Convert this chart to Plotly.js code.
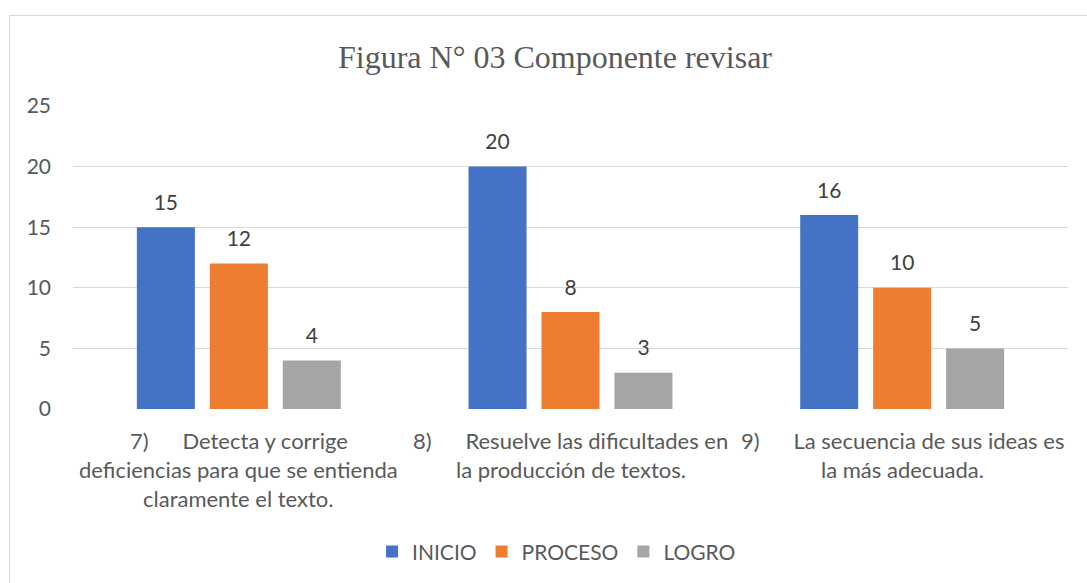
<!DOCTYPE html>
<html>
<head>
<meta charset="utf-8">
<script src="https://cdn.plot.ly/plotly-3.0.1.min.js"></script>
<style>
  html, body { margin: 0; padding: 0; background: #fff; }
  #frame { position: absolute; left: 9px; top: 15px; width: 1100px; height: 600px; border: 1px solid #d9d9d9; box-sizing: border-box; }
  #chart { position: absolute; left: 0; top: 0; width: 1087px; height: 583px; }
</style>
</head>
<body>
<div id="frame"></div>
<div id="chart"></div>
<script>
const categories = ['cat7', 'cat8', 'cat9'];
const categoryLines = [
  ['7)\u00a0\u00a0\u00a0\u00a0\u00a0\u00a0Detecta y corrige', 'deficiencias para que se entienda', 'claramente el texto.'],
  ['8)\u00a0\u00a0\u00a0\u00a0\u00a0\u00a0Resuelve las dificultades en', 'la producción de textos.'],
  ['9)\u00a0\u00a0\u00a0\u00a0\u00a0\u00a0La secuencia de sus ideas es', 'la más adecuada.']
];
const seriesNames = ['INICIO', 'PROCESO', 'LOGRO'];
const inicio = [15, 20, 16];
const proceso = [12, 8, 10];
const logro = [4, 3, 5];
const seriesColors = ['#4472C4', '#ED7D31', '#A5A5A5'];
const titleText = 'Figura N° 03 Componente revisar';

const seriesValues = [inicio, proceso, logro];
const FONT = 'Lato, "Liberation Sans", sans-serif';
const TXT = '#595959';

const traces = [];
seriesValues.forEach((vals, i) => {
  traces.push({
    type: 'bar', x: categories, y: vals, name: seriesNames[i],
    marker: { color: seriesColors[i] }, hoverinfo: 'skip',
    offsetgroup: 'g' + i, alignmentgroup: 'a'
  });
});
seriesValues.forEach((vals, i) => {
  traces.push({
    type: 'scatter', mode: 'markers+text', x: categories, y: vals,
    text: vals.map(String), textposition: 'top center',
    textfont: { family: FONT, size: 21, color: '#404040' },
    marker: { size: 18, opacity: 0 }, showlegend: false, hoverinfo: 'skip',
    offsetgroup: 'g' + i, alignmentgroup: 'a', cliponaxis: false
  });
});

const annotations = [];
categoryLines.forEach((lines, i) => {
  lines.forEach((ln, j) => {
    annotations.push({
      x: categories[i], xref: 'x', y: 0, yref: 'paper',
      yanchor: 'middle', yshift: -31 - 29 * j,
      text: ln, showarrow: false,
      font: { family: FONT, size: 22, color: TXT }
    });
  });
});

const layout = {
  width: 1087, height: 583,
  margin: { l: 73, r: 19, t: 106, b: 173 },
  paper_bgcolor: 'rgba(0,0,0,0)', plot_bgcolor: 'rgba(0,0,0,0)',
  barmode: 'group', bargap: 0.34, bargroupgap: 0.205,
  scattermode: 'group', scattergap: 0.34,
  title: {
    text: titleText, x: 555 / 1087, xref: 'container', xanchor: 'center',
    y: 1 - 57 / 583, yref: 'container', yanchor: 'middle',
    font: { family: '"Liberation Serif", "Times New Roman", serif', size: 32, color: TXT }
  },
  xaxis: { type: 'category', showticklabels: false, showgrid: false, showline: false, zeroline: false, ticks: '', fixedrange: true },
  yaxis: {
    range: [0, 25], dtick: 5, tick0: 0, showgrid: true, gridcolor: '#d9d9d9', gridwidth: 1,
    zeroline: false, showline: false, ticks: '', ticklabelstandoff: 21,
    tickfont: { family: FONT, size: 21, color: TXT }, fixedrange: true
  },
  showlegend: true,
  legend: {
    orientation: 'h', x: 0.486, xanchor: 'center', y: -0.467, yanchor: 'middle',
    font: { family: FONT, size: 21, color: TXT }, traceorder: 'normal'
  },
  annotations: annotations
};

Plotly.newPlot('chart', traces, layout, { displayModeBar: false, staticPlot: true });
</script>
</body>
</html>
